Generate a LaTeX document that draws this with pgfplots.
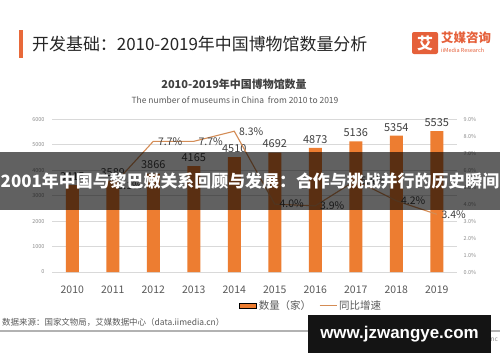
\documentclass[border=0pt]{standalone}
\usepackage{pgfplots}
\pgfplotsset{compat=1.18}
\usepackage{fontspec}
\setmainfont{Noto Sans CJK SC}
\newfontfamily\wmfont{Liberation Sans}
\definecolor{barorange}{HTML}{ED7D31}
\definecolor{linecol}{RGB}{212,140,85}
\definecolor{headbar}{HTML}{E8693A}
\definecolor{logocol}{HTML}{E5603A}
\definecolor{titlecol}{HTML}{262626}
\definecolor{valgray}{HTML}{404040}
\definecolor{labgray}{HTML}{595959}
\definecolor{tickgray}{HTML}{8C8C8C}
\begin{document}
\begin{tikzpicture}[x=1bp,y=1bp]
\useasboundingbox (0,0) rectangle (500,362);
\fill[white] (0,0) rectangle (500,362);
% header
\fill[headbar] (19,304) rectangle (23,332);
\node[anchor=west, inner sep=0, text=titlecol, font=\fontsize{17}{20}\selectfont] at (32,318) {开发基础：2010-2019年中国博物馆数量分析};
\fill[logocol, rounded corners=2bp] (412,308) rectangle (438,330);
\node[text=white, font=\fontsize{16}{17}\selectfont\bfseries, inner sep=0] at (425,319) {艾};
\node[anchor=west, inner sep=0, text=logocol, font=\fontsize{12.5}{14}\selectfont\bfseries] at (441,324) {艾媒咨询};
\node[anchor=west, inner sep=0, text=logocol, font=\fontsize{5.5}{6}\selectfont] at (441,312) {iiMedia Research};
% chart titles
\node[text=valgray, font=\fontsize{11}{12}\selectfont\bfseries, inner sep=0] at (234,278) {2010-2019年中国博物馆数量};
\node[text=labgray, font=\fontsize{8.5}{10}\selectfont, inner sep=0] at (235,262) {The number of museums in China\ \ from 2010 to 2019};
% bars
\begin{axis}[at={(52bp,90bp)}, anchor=south west, scale only axis,
  width=405bp, height=152.7bp, clip=false,
  xmin=-0.5, xmax=9.5, ymin=0, ymax=6000,
  axis line style={draw=none}, major tick length=0,
  xtick={0,...,9}, xticklabels={2010,2011,2012,2013,2014,2015,2016,2017,2018,2019},
  ytick={0,1000,...,6000}, ymajorgrids, grid style={draw=black!15, line width=0.6bp},
  /pgf/number format/assume math mode=true, /pgf/number format/1000 sep={},
  scaled y ticks=false,
  yticklabel style={font=\fontsize{5.5}{6}\selectfont, text=tickgray, xshift=-4bp},
  xticklabel style={font=\fontsize{10.5}{12}\selectfont, text=labgray, yshift=-10bp},
]
\addplot[ybar, bar width=13bp, fill=barorange, draw=none,
  nodes near coords, nodes near coords style={font=\fontsize{11}{12}\selectfont, text=valgray, yshift=1bp}]
  coordinates {(0,3415) (1,3589) (2,3866) (3,4165) (4,4510) (5,4692) (6,4873) (7,5136) (8,5354) (9,5535)};
\end{axis}
% line
\begin{axis}[at={(52bp,90bp)}, anchor=south west, scale only axis,
  width=405bp, height=152.7bp, clip=false,
  xmin=-0.5, xmax=9.5, ymin=0, ymax=9,
  axis y line*=right, axis x line=none, axis line style={draw=none}, major tick length=0,
  ytick={0,...,9},
  yticklabel={\pgfmathprintnumber[fixed,fixed zerofill,precision=1]{\tick}\%},
  /pgf/number format/assume math mode=true,
  yticklabel style={font=\fontsize{5.5}{6}\selectfont, text=tickgray, xshift=3bp},
  legend style={at={(0.64,-0.22)}, anchor=center, draw=none, fill=none,
    legend columns=2, font=\fontsize{10.5}{12}\selectfont, text=labgray,
    /tikz/every even column/.append style={column sep=6bp}},
]
\addlegendimage{area legend, fill=barorange, draw=none}
\addlegendentry{数量（家）}
\addplot[linecol, line width=1.1bp, mark=none, point meta=explicit symbolic,
  nodes near coords, nodes near coords style={anchor=west, font=\fontsize{10.5}{12}\selectfont, text=valgray, xshift=1bp}]
  coordinates {(1,5.1) [5.1\%] (2,7.7) [7.7\%] (3,7.7) [7.7\%] (4,8.3) [8.3\%] (5,4.0) [4.0\%]
   (6,3.9) [3.9\%] (7,5.4) [5.4\%] (8,4.2) [4.2\%] (9,3.4) [3.4\%]};
\addlegendentry{同比增速}
\end{axis}
% banner
\fill[black, opacity=0.62] (0,152) rectangle (500,210);
\node[text=white, font=\fontsize{17}{20}\selectfont\bfseries, inner sep=0] at (250,181) {2001年中国与黎巴嫩关系回顾与发展：合作与挑战并行的历史瞬间};
% footer
\node[anchor=west, inner sep=0, text=labgray, font=\fontsize{8.5}{10}\selectfont] at (2,40) {数据来源：国家文物局，艾媒数据中心（data.iimedia.cn）};
\draw[black!30, line width=1.2bp] (0,31) -- (500,31);
\node[anchor=east, inner sep=0, text=tickgray, font=\fontsize{6.5}{8}\selectfont] at (498,22) {© 艾媒报告中心\ \ report.iimedia.cn\ \ ©2020 iiMedia Research Inc};
\fill[black!92] (308,9) rectangle (491,47);
\node[text=white, font=\wmfont\fontsize{17}{20}\selectfont\bfseries, inner sep=0] at (399.5,28) {www.jzwangye.com};
\end{tikzpicture}
\end{document}
